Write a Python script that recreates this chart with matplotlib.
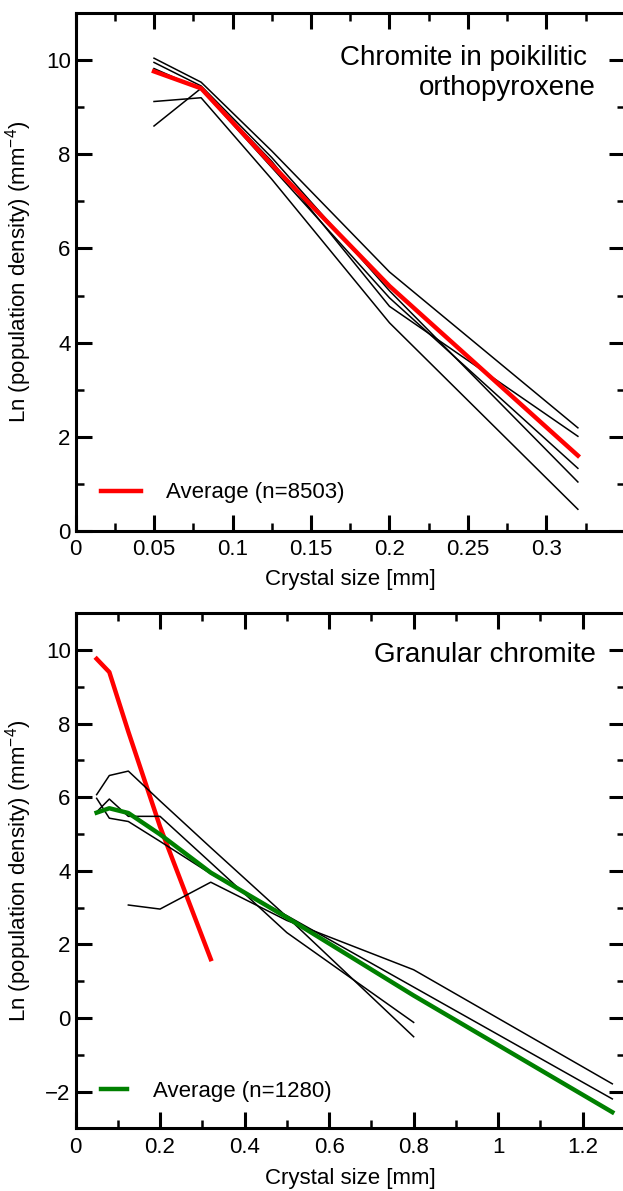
import matplotlib
matplotlib.use("Agg")
import matplotlib.pyplot as plt
from matplotlib.ticker import MultipleLocator, FixedLocator, FixedFormatter

plt.rcParams['font.family'] = ['Liberation Sans', 'DejaVu Sans']
plt.rcParams['mathtext.fontset'] = 'custom'
plt.rcParams['mathtext.rm'] = 'Liberation Sans'
plt.rcParams['mathtext.it'] = 'Liberation Sans'

#region Data
# size classes (mm)
size_poik = [0.05, 0.08, 0.125, 0.2, 0.32]
size_gran = [0.05, 0.08, 0.125, 0.2, 0.32, 0.5, 0.8, 1.27]

# chromite in poikilitic orthopyroxene, single samples
poik_1 = [10.04, 9.53, 8.07, 5.50, 2.19]
poik_2 = [9.95, 9.45, 7.93, 5.10, 1.04]
poik_3 = [9.12, 9.20, 7.47, 4.42, 0.46]
poik_4 = [9.82, 9.38, 7.72, 4.95, 1.33]
poik_5 = [8.60, 9.40, 7.85, 4.77, 2.01]
poik_avg = [9.76, 9.40, 7.78, 5.20, 1.60]

# granular chromite, single samples (some size classes empty)
gran_a_x = [0.05, 0.08, 0.125, 0.2, 0.32, 0.5, 0.8]
gran_a = [6.07, 6.59, 6.71, 5.90, 4.63, 2.75, -0.51]
gran_b_x = [0.05, 0.08, 0.125, 0.2, 0.32, 0.5, 0.8, 1.27]
gran_b = [5.97, 5.43, 5.34, 4.80, 3.92, 2.78, 0.84, -2.20]
gran_c_x = [0.05, 0.08, 0.125, 0.2, 0.32, 0.5, 0.8]
gran_c = [5.60, 5.95, 5.48, 5.48, 4.22, 2.32, -0.12]
gran_d_x = [0.125, 0.2, 0.32, 0.5, 0.8, 1.27]
gran_d = [3.07, 2.96, 3.69, 2.65, 1.31, -1.79]
gran_avg = [5.58, 5.70, 5.57, 4.99, 3.95, 2.73, 0.61, -2.56]

poik_xticks = [0, 0.05, 0.1, 0.15, 0.2, 0.25, 0.3]
poik_xlabels = ['0', '0.05', '0.1', '0.15', '0.2', '0.25', '0.3']
gran_xticks = [0, 0.2, 0.4, 0.6, 0.8, 1.0, 1.2]
gran_xlabels = ['0', '0.2', '0.4', '0.6', '0.8', '1', '1.2']
poik_yticks = [0, 2, 4, 6, 8, 10]
gran_yticks = [-2, 0, 2, 4, 6, 8, 10]
#endregion

fig = plt.figure(figsize=(6.23, 11.91), dpi=100)
ax1 = fig.add_axes([0.1212, 0.5542, 0.8820, 0.4349])
ax2 = fig.add_axes([0.1212, 0.0526, 0.8820, 0.4325])

ylab = r'Ln (population density) (mm$^{-4}$)'
xlab = 'Crystal size [mm]'


def style(ax):
    for s in ax.spines.values():
        s.set_linewidth(2.2)
    ax.tick_params(which='both', direction='in', top=True, right=True,
                   labelsize=16)
    ax.tick_params(which='major', length=11.5, width=2.2)
    ax.tick_params(which='minor', length=5.8, width=1.8)
    ax.tick_params(axis='x', pad=6)
    ax.tick_params(axis='y', pad=3.5)


#region Top panel
for ys in [poik_1, poik_2, poik_3, poik_4, poik_5]:
    ax1.plot(size_poik, ys, color='black', lw=1.1)
ax1.plot(size_poik, poik_avg, color='#ff0000', lw=3.2, label='Average (n=8503)')
ax1.set_xlim(0, 0.35)
ax1.set_ylim(0, 11)
ax1.xaxis.set_major_locator(FixedLocator(poik_xticks))
ax1.xaxis.set_major_formatter(FixedFormatter(poik_xlabels))
ax1.xaxis.set_minor_locator(MultipleLocator(0.025))
ax1.set_yticks(poik_yticks)
ax1.yaxis.set_minor_locator(MultipleLocator(1))
style(ax1)
ax1.set_xlabel(xlab, fontsize=16)
ax1.set_ylabel(ylab, fontsize=16)
ax1.xaxis.set_label_coords(0.5, -0.073)
ax1.yaxis.set_label_coords(-0.075, 0.5)
ax1.text(0.931, 0.900, 'Chromite in poikilitic', transform=ax1.transAxes,
         ha='right', va='baseline', fontsize=20)
ax1.text(0.947, 0.842, 'orthopyroxene', transform=ax1.transAxes,
         ha='right', va='baseline', fontsize=20)
ax1.legend(loc='center left', bbox_to_anchor=(0.0466, 0.0735), frameon=False,
           fontsize=16, borderpad=0, borderaxespad=0, handlelength=1.8,
           handletextpad=1.1)
#endregion

#region Bottom panel
ax2.plot(size_poik, poik_avg, color='#ff0000', lw=3.2)
ax2.plot(gran_a_x, gran_a, color='black', lw=1.1)
ax2.plot(gran_b_x, gran_b, color='black', lw=1.1)
ax2.plot(gran_c_x, gran_c, color='black', lw=1.1)
ax2.plot(gran_d_x, gran_d, color='black', lw=1.1)
ax2.plot(size_gran, gran_avg, color='#008000', lw=3.2, label='Average (n=1280)')
ax2.set_xlim(0, 1.3)
ax2.set_ylim(-3, 11)
ax2.xaxis.set_major_locator(FixedLocator(gran_xticks))
ax2.xaxis.set_major_formatter(FixedFormatter(gran_xlabels))
ax2.xaxis.set_minor_locator(MultipleLocator(0.1))
ax2.set_yticks(gran_yticks)
ax2.yaxis.set_minor_locator(MultipleLocator(1))
style(ax2)
ax2.set_xlabel(xlab, fontsize=16)
ax2.set_ylabel(ylab, fontsize=16)
ax2.xaxis.set_label_coords(0.5, -0.077)
ax2.yaxis.set_label_coords(-0.075, 0.5)
ax2.text(0.947, 0.906, 'Granular chromite', transform=ax2.transAxes,
         ha='right', va='baseline', fontsize=20)
ax2.legend(loc='center left', bbox_to_anchor=(0.0466, 0.0714), frameon=False,
           fontsize=16, borderpad=0, borderaxespad=0, handlelength=1.17,
           handletextpad=1.17)
#endregion

fig.savefig('out.png', dpi=100)
